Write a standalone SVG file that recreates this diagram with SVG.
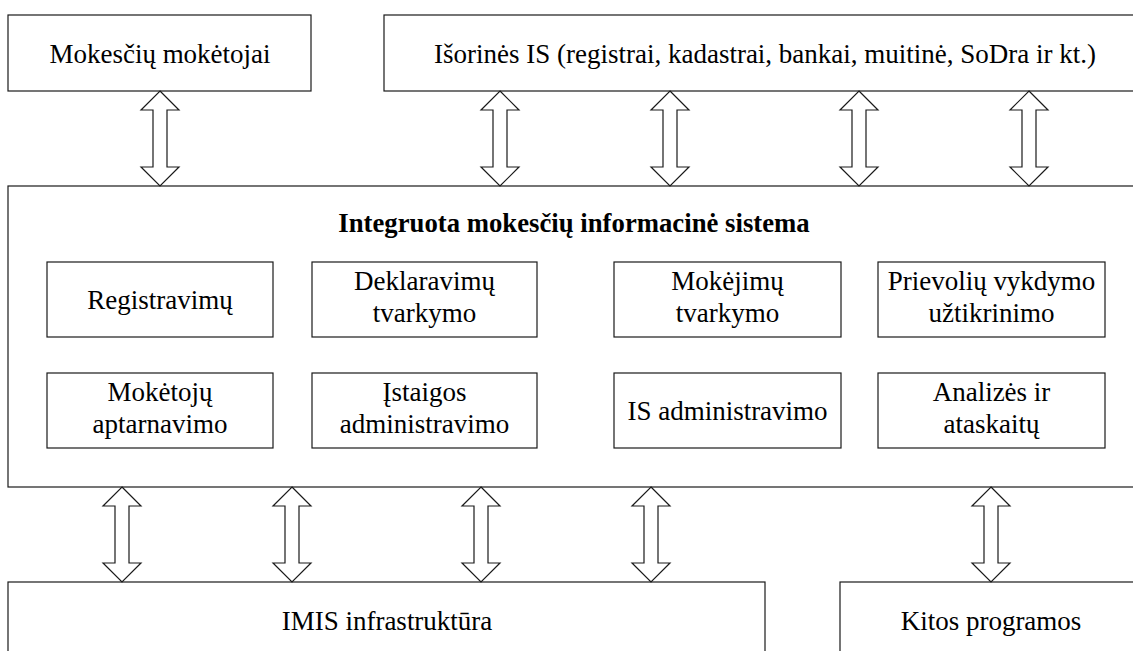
<svg xmlns="http://www.w3.org/2000/svg" width="1133" height="651" viewBox="0 0 1133 651">
  <style>
    .box { fill: #ffffff; stroke: #1a1a1a; stroke-width: 1.2; }
    .arrow { fill: #ffffff; stroke: #1a1a1a; stroke-width: 1.2; stroke-linejoin: miter; }
    .lbl { font-family: "Liberation Serif", "Times New Roman", serif; font-size: 27px; fill: #000000; text-anchor: middle; }
    .ttl { font-weight: bold; }
  </style>
  <defs>
    <!-- double-headed block arrow, 95 px long, tip at origin pointing up -->
    <path id="dblArrow" d="M0,0 L19,19 L7,19 L7,76 L19,76 L0,95 L-19,76 L-7,76 L-7,19 L-19,19 Z"/>
  </defs>

  <rect width="1133" height="651" fill="#ffffff"/>

  <!-- outer systems -->
  <g id="mokesciu-moketojai">
    <rect class="box" x="8" y="15" width="303" height="76"/>
    <text class="lbl" transform="translate(160 63) scale(1 1.05)">Mokesčių mokėtojai</text>
  </g>
  <g id="isorines-is">
    <rect class="box" x="384" y="15" width="762" height="76"/>
    <text class="lbl" transform="translate(765 63) scale(1 1.05)">Išorinės IS (registrai, kadastrai, bankai, muitinė, SoDra ir kt.)</text>
  </g>

  <!-- integrated tax information system -->
  <g id="imis">
    <rect class="box" x="8" y="186" width="1140" height="301"/>
    <text class="lbl ttl" transform="translate(574 232) scale(0.99 1.05)">Integruota mokesčių informacinė sistema</text>
  </g>

  <g id="registravimu">
    <rect class="box" x="47" y="262" width="226" height="75"/>
    <text class="lbl" transform="translate(160 309) scale(1 1.05)">Registravimų</text>
  </g>
  <g id="deklaravimu-tvarkymo">
    <rect class="box" x="312" y="262" width="225" height="75"/>
    <text class="lbl" transform="translate(424.5 290) scale(1 1.05)">Deklaravimų</text>
    <text class="lbl" transform="translate(424.5 322) scale(1 1.05)">tvarkymo</text>
  </g>
  <g id="mokejimu-tvarkymo">
    <rect class="box" x="614" y="262" width="227" height="75"/>
    <text class="lbl" transform="translate(727.5 290) scale(1 1.05)">Mokėjimų</text>
    <text class="lbl" transform="translate(727.5 322) scale(1 1.05)">tvarkymo</text>
  </g>
  <g id="prievoliu-vykdymo">
    <rect class="box" x="878" y="262" width="227" height="75"/>
    <text class="lbl" transform="translate(991.5 290) scale(1 1.05)">Prievolių vykdymo</text>
    <text class="lbl" transform="translate(991.5 322) scale(1 1.05)">užtikrinimo</text>
  </g>

  <g id="moketoju-aptarnavimo">
    <rect class="box" x="47" y="373" width="226" height="75"/>
    <text class="lbl" transform="translate(160 401) scale(1 1.05)">Mokėtojų</text>
    <text class="lbl" transform="translate(160 433) scale(1 1.05)">aptarnavimo</text>
  </g>
  <g id="istaigos-administravimo">
    <rect class="box" x="312" y="373" width="225" height="75"/>
    <text class="lbl" transform="translate(424.5 401) scale(1 1.05)">Įstaigos</text>
    <text class="lbl" transform="translate(424.5 433) scale(1 1.05)">administravimo</text>
  </g>
  <g id="is-administravimo">
    <rect class="box" x="614" y="373" width="227" height="75"/>
    <text class="lbl" transform="translate(727.5 420) scale(1 1.05)">IS administravimo</text>
  </g>
  <g id="analizes-ataskaitu">
    <rect class="box" x="878" y="373" width="227" height="75"/>
    <text class="lbl" transform="translate(991.5 401) scale(1 1.05)">Analizės ir</text>
    <text class="lbl" transform="translate(991.5 433) scale(1 1.05)">ataskaitų</text>
  </g>

  <!-- lower layer -->
  <g id="imis-infrastruktura">
    <rect class="box" x="8" y="582" width="757" height="80"/>
    <text class="lbl" transform="translate(387 630) scale(1 1.05)">IMIS infrastruktūra</text>
  </g>
  <g id="kitos-programos">
    <rect class="box" x="840" y="582" width="302" height="80"/>
    <text class="lbl" transform="translate(991 630) scale(1 1.05)">Kitos programos</text>
  </g>

  <!-- two-way data flows -->
  <g id="connectors">
    <use class="arrow" href="#dblArrow" x="160" y="91"/>
    <use class="arrow" href="#dblArrow" x="500" y="91"/>
    <use class="arrow" href="#dblArrow" x="670" y="91"/>
    <use class="arrow" href="#dblArrow" x="859" y="91"/>
    <use class="arrow" href="#dblArrow" x="1029" y="91"/>
    <use class="arrow" href="#dblArrow" x="122" y="487"/>
    <use class="arrow" href="#dblArrow" x="292" y="487"/>
    <use class="arrow" href="#dblArrow" x="481" y="487"/>
    <use class="arrow" href="#dblArrow" x="651" y="487"/>
    <use class="arrow" href="#dblArrow" x="991" y="487"/>
  </g>
</svg>
